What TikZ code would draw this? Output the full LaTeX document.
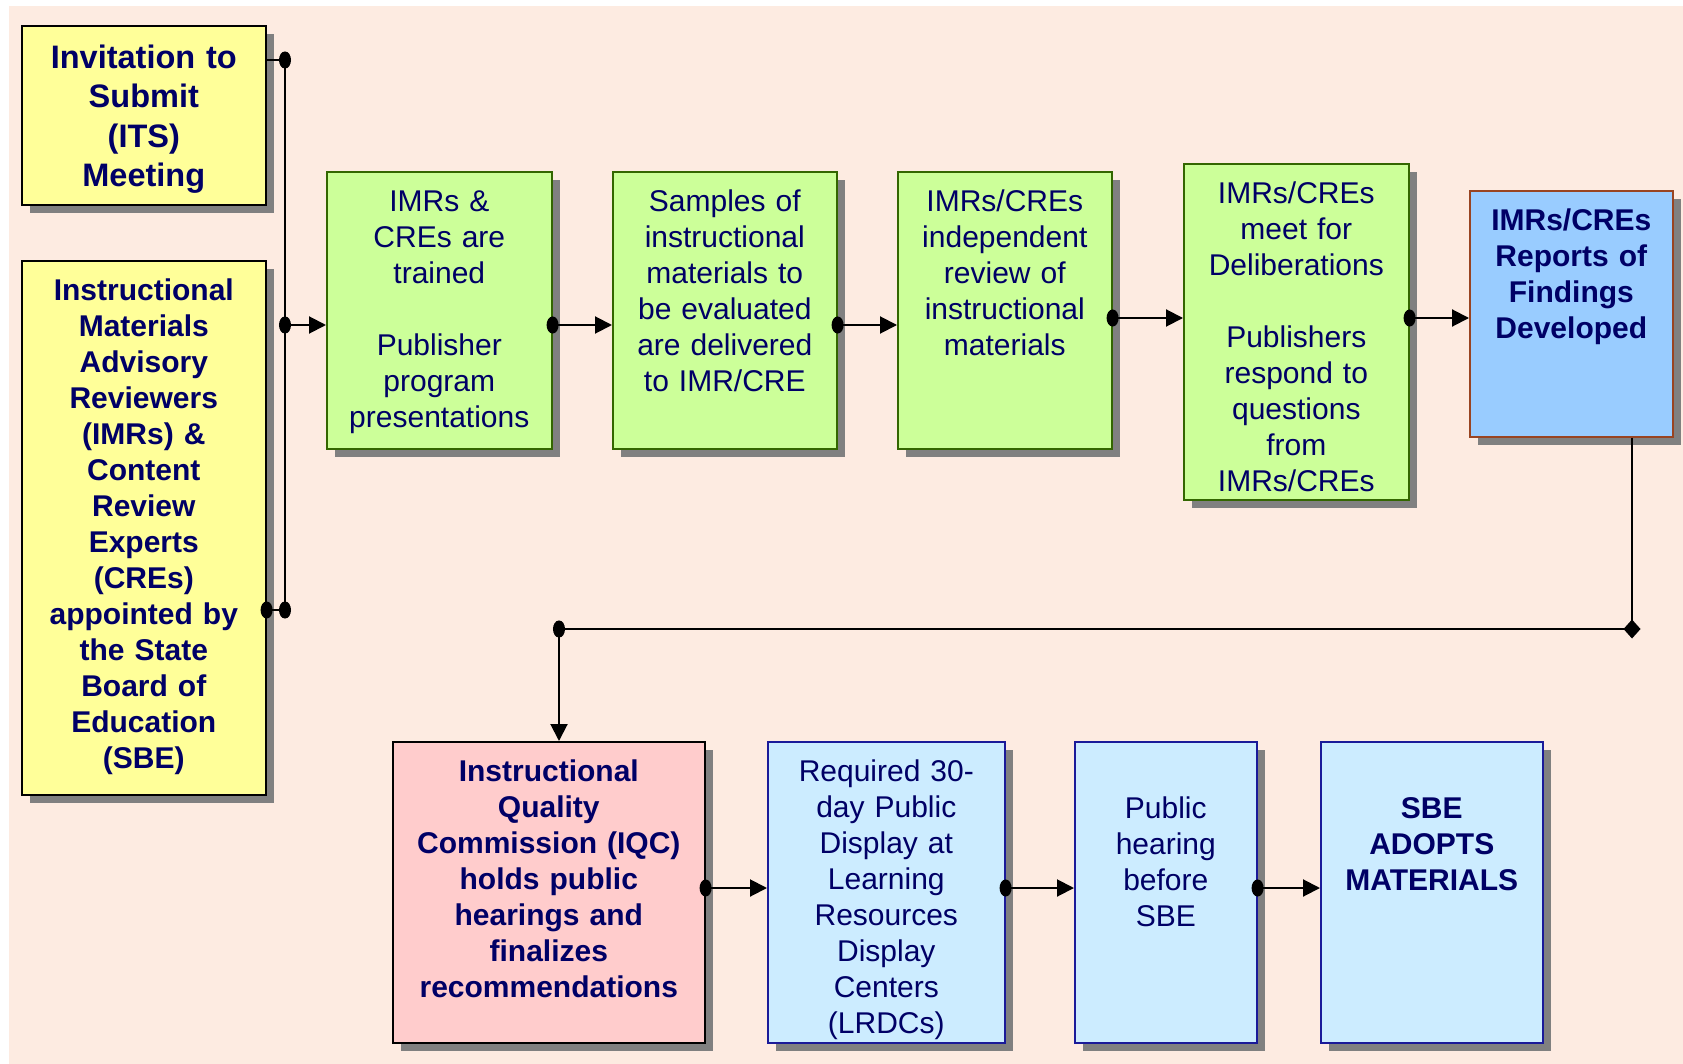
\documentclass[tikz,border=0pt]{standalone}
\usepackage{fontspec}
\setmainfont{Liberation Sans}
\usetikzlibrary{arrows.meta}
\usetikzlibrary{shadows}
\definecolor{peach-bg}{HTML}{FDEBE1}
\definecolor{its-yellow}{HTML}{FFFF99}
\definecolor{step-green}{HTML}{CCFF99}
\definecolor{green-line}{HTML}{336600}
\definecolor{report-blue}{HTML}{99CCFF}
\definecolor{report-line}{HTML}{994422}
\definecolor{iqc-pink}{HTML}{FFCCCC}
\definecolor{sbe-blue}{HTML}{CCECFF}
\definecolor{sbe-line}{HTML}{1A1A99}
\definecolor{ink}{HTML}{000066}

\begin{document}
\begin{tikzpicture}[x=1pt, y=-1pt, font=\fontsize{30}{36}\selectfont,
  box/.style={draw, line width=1.6pt, anchor=north west, inner sep=0pt, align=center,
    text=ink, text height=40pt,
    drop shadow={shadow xshift=8pt, shadow yshift=-8pt, opacity=1, fill=black!50}},
  bold/.style={font=\fontsize{30}{36}\selectfont\bfseries},
  size/.style 2 args={text width=#1pt, text depth=#2pt},
  wire/.style={line width=2pt},
  conn/.style={wire, {Ellipse[length=12pt, width=17pt]}-{Triangle[length=17pt, width=17pt]},
    shorten <=-6pt}]
\useasboundingbox (0,0) rectangle (1683,1064);
\fill[peach-bg] (9,6) rectangle (1683,1064);

% appointed / invited (left column)
\node[box, fill=its-yellow, size={244}{136.5}, text height=42.5pt,
  font=\fontsize{32.5}{39.5}\selectfont\bfseries]
  (its) at (21,25)
  {Invitation to\\Submit\\(ITS)\\Meeting};
\node[box, fill=its-yellow, size={244}{494}, bold]
  (imar) at (21,260)
  {Instructional\\Materials\\Advisory\\Reviewers\\(IMRs) \&\\Content\\Review\\Experts\\(CREs)\\appointed by\\the State\\Board of\\Education\\(SBE)};

% review steps
\node[box, fill=step-green, draw=green-line, size={225}{237}]
  (train) at (326,171)
  {IMRs \&\\CREs are\\trained\\[36pt]Publisher\\program\\presentations};
\node[box, fill=step-green, draw=green-line, size={224}{237}]
  (deliver) at (612,171)
  {Samples of\\instructional\\materials to\\be evaluated\\are delivered\\to IMR/CRE};
\node[box, fill=step-green, draw=green-line, size={214}{237}]
  (review) at (897,171)
  {IMRs/CREs\\independent\\review of\\instructional\\materials};
\node[box, fill=step-green, draw=green-line, size={225}{296}]
  (delib) at (1183,163)
  {IMRs/CREs\\meet for\\Deliberations\\[36pt]Publishers\\respond to\\questions\\from\\IMRs/CREs};
\node[box, fill=report-blue, draw=report-line, size={203}{206}, bold]
  (reports) at (1469,190)
  {IMRs/CREs\\Reports of\\Findings\\Developed};

% commission and board
\node[box, fill=iqc-pink, size={312}{261}, bold]
  (iqc) at (392,741)
  {Instructional\\Quality\\Commission (IQC)\\holds public\\hearings and\\finalizes\\recommendations};
\node[box, fill=sbe-blue, draw=sbe-line, size={237}{261}]
  (display) at (767,741)
  {Required 30-\\day Public\\Display at\\Learning\\Resources\\Display\\Centers\\(LRDCs)};
\node[box, fill=sbe-blue, draw=sbe-line, size={182}{224}, text height=77pt]
  (hearing) at (1074,741)
  {Public\\hearing\\before\\SBE};
\node[box, fill=sbe-blue, draw=sbe-line, size={222}{224}, text height=77pt, bold]
  (adopt) at (1320,741)
  {SBE\\ADOPTS\\MATERIALS};

% connectors
\coordinate (bus-top) at (285,60);
\coordinate (bus-mid) at (285,325);
\coordinate (bus-bot) at (285,610);
\coordinate (row-hi) at (0,318);
\coordinate (row-low) at (0,888);
\coordinate (turn-r) at (1632,629);
\coordinate (turn-l) at (559,629);

\draw[wire] (bus-top) -- (bus-bot);
\draw[wire, -{Ellipse[length=12pt, width=17pt]}, shorten >=-6pt] (its.east |- bus-top) -- (bus-top);
\draw[wire, {Ellipse[length=12pt, width=17pt]}-{Ellipse[length=12pt, width=17pt]},
  shorten <=-6pt, shorten >=-6pt] (imar.east |- bus-bot) -- (bus-bot);
\draw[conn, shorten <=-6pt] (bus-mid) -- (bus-mid -| train.west);
\foreach \a/\b in {train/deliver, deliver/review}
  \draw[conn] (\a.east |- bus-mid) -- (bus-mid -| \b.west);
\foreach \a/\b in {review/delib, delib/reports}
  \draw[conn] (\a.east |- row-hi) -- (row-hi -| \b.west);

\draw[wire] (reports.south -| turn-r) -- (turn-r);
\draw[wire, {Diamond[length=17pt, width=19pt]}-{Ellipse[length=12pt, width=17pt]},
  shorten <=-8.5pt, shorten >=-6pt] (turn-r) -- (turn-l);
\draw[wire, -{Triangle[length=17pt, width=17pt]}] (turn-l) -- (turn-l |- iqc.north);

\foreach \a/\b in {iqc/display, display/hearing, hearing/adopt}
  \draw[conn] (\a.east |- row-low) -- (row-low -| \b.west);
\end{tikzpicture}
\end{document}
